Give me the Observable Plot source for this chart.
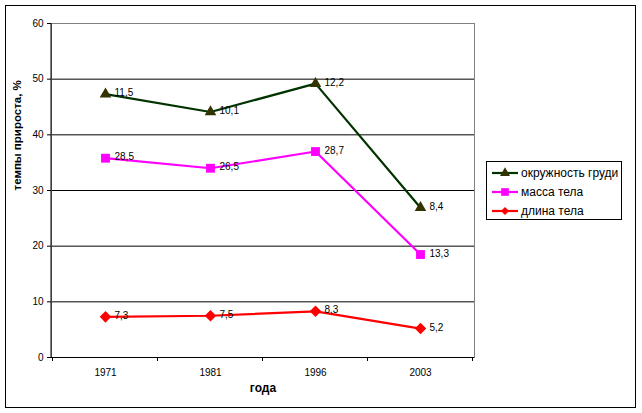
<!DOCTYPE html>
<html>
<head>
<meta charset="utf-8">
<script src="https://cdn.jsdelivr.net/npm/d3@7"></script>
<script src="https://cdn.jsdelivr.net/npm/@observablehq/plot@0.6"></script>
<style>
  body { margin: 0; background: #fff; font-family: "Liberation Sans", Arial, sans-serif; }
  #wrap { position: relative; width: 642px; height: 413px; }
  #border { position: absolute; left: 5px; top: 5px; width: 629px; height: 401px; border: 1px solid #000; pointer-events: none; }
  #legend { position: absolute; left: 486px; top: 161px; width: 134px; height: 57px; border: 1px solid #000; background: #fff; font-size: 12px; }
  .item { position: absolute; left: 4px; height: 14px; display: flex; align-items: center; white-space: nowrap; }
  .item svg { margin-right: 2px; }
</style>
</head>
<body>
<div id="wrap"><div id="border"></div></div>
<script>
const years = ["1971", "1981", "1996", "2003"];
const seriesNames = ["длина тела", "масса тела", "окружность груди"];
const lengthVals = [7.3, 7.5, 8.3, 5.2];
const massVals = [28.5, 26.5, 28.7, 13.3];
const chestVals = [11.5, 10.1, 12.2, 8.4];
const yTicks = [0, 10, 20, 30, 40, 50, 60];

const lineColors = {"длина тела": "#ff0000", "масса тела": "#ff00ff", "окружность груди": "#003300"};
const markerColors = {"длина тела": "#ff0000", "масса тела": "#ff00ff", "окружность груди": "#333300"};
const symbols = {"длина тела": "diamond2", "масса тела": "square", "окружность груди": "triangle"};
const sizes = {"длина тела": 5.2, "масса тела": 5, "окружность груди": 4.3};
const legendOrder = ["окружность груди", "масса тела", "длина тела"];

const valuesBySeries = {"длина тела": lengthVals, "масса тела": massVals, "окружность груди": chestVals};
const data = [];
for (const s of seriesNames) years.forEach((y, i) => data.push({year: y, series: s, value: valuesBySeries[s][i]}));

const stackOpts = (extra) => Plot.stackY2({x: "year", y: "value", z: "series", order: seriesNames, ...extra});

const boundaryTicks = (index, scales, values, dims) => {
  const x = scales.x;
  const step = x(years[1]) - x(years[0]);
  const g = d3.create("svg:g");
  const y0 = dims.height - dims.marginBottom;
  const xs = years.map(c => x(c) - step / 2).concat([x(years[years.length - 1]) + step / 2]);
  for (const xv of xs) {
    g.append("line").attr("x1", xv).attr("x2", xv).attr("y1", y0).attr("y2", y0 + 4)
      .attr("stroke", "#000").attr("stroke-width", 1);
  }
  g.append("line").attr("x1", dims.marginLeft).attr("x2", dims.marginLeft)
    .attr("y1", dims.marginTop).attr("y2", y0).attr("stroke", "#000");
  return g.node();
};

const chart = Plot.plot({
  width: 642,
  height: 413,
  marginLeft: 51,
  marginRight: 168,
  marginTop: 23,
  marginBottom: 56,
  style: {fontFamily: "'Liberation Sans', Arial, sans-serif", fontSize: "10px", background: "transparent"},
  x: {type: "point", domain: years, padding: 0.5, label: null},
  y: {domain: [0, 60], label: null},
  symbol: {type: "identity"},
  marks: [
    Plot.ruleY(yTicks.filter(t => t > 0 && t < 60), {stroke: "#000", strokeWidth: 1}),
    Plot.frame({stroke: "#808080", strokeWidth: 1}),
    Plot.ruleY([0], {stroke: "#000", strokeWidth: 1}),
    Plot.axisY({ticks: yTicks, tickSize: 4, tickPadding: 4, label: null, fill: "#000"}),
    Plot.axisX({tickSize: 0, tickPadding: 11, label: null, fill: "#000"}),
    boundaryTicks,
    Plot.lineY(data, stackOpts({stroke: d => lineColors[d.series], strokeWidth: 2.2})),
    Plot.dot(data, stackOpts({
      symbol: d => symbols[d.series],
      fill: d => markerColors[d.series],
      stroke: "none",
      r: d => sizes[d.series]
    })),
    Plot.text(data, stackOpts({
      text: d => String(d.value).replace(".", ","),
      textAnchor: "start",
      dx: 9,
      dy: -1,
      fill: "#000",
      fontSize: 10
    })),
    Plot.text(["темпы прироста, %"], {text: d => d, frameAnchor: "left", rotate: -90, dx: -34, fontWeight: "bold", fontSize: 11.5, fill: "#000"}),
    Plot.text(["года"], {text: d => d, frameAnchor: "bottom", dy: 34, fontWeight: "bold", fontSize: 12, fill: "#000"})
  ],
  r: {type: "identity"},
  color: {type: "identity"}
});

const wrap = document.getElementById("wrap");
chart.style.position = "absolute";
chart.style.left = "0";
chart.style.top = "0";
wrap.insertBefore(chart, wrap.firstChild);

const legend = document.createElement("div");
legend.id = "legend";
legendOrder.forEach((s, i) => {
  const item = document.createElement("div");
  item.className = "item";
  item.style.top = (4 + i * 19) + "px";
  const sym = d3.symbol(s === "длина тела" ? d3.symbolDiamond2 : s === "масса тела" ? d3.symbolSquare : d3.symbolTriangle,
    Math.PI * sizes[s] * sizes[s] * (s === "длина тела" ? 0.5 : 0.75))();
  item.innerHTML = `<svg width="28" height="14"><line x1="1" x2="27" y1="7" y2="7" stroke="${lineColors[s]}" stroke-width="2.2"/><path transform="translate(14,7)" d="${sym}" fill="${markerColors[s]}"/></svg><span>${s}</span>`;
  legend.appendChild(item);
});
wrap.appendChild(legend);
</script>
</body>
</html>
